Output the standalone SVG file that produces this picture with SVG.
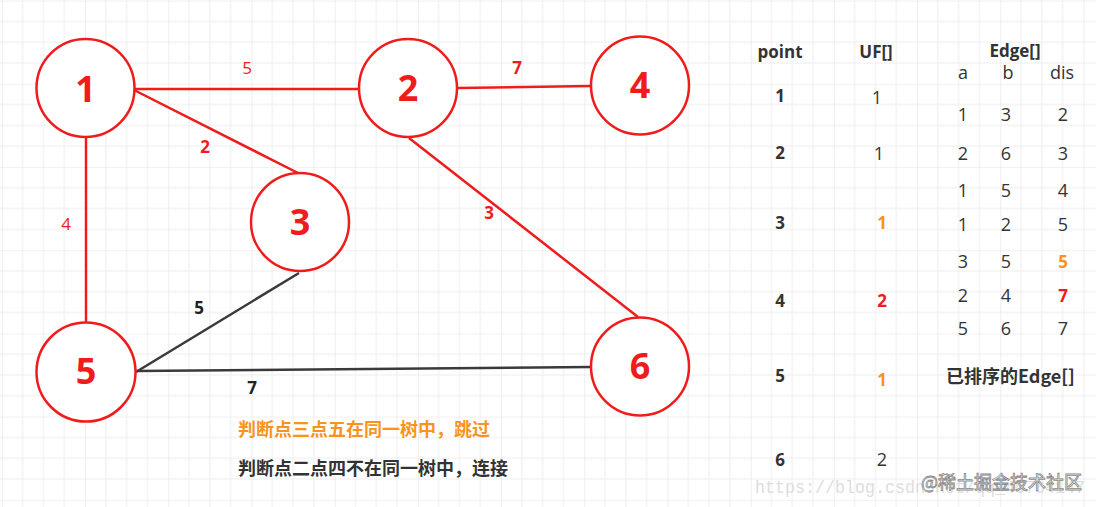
<svg xmlns="http://www.w3.org/2000/svg" width="1096" height="507" viewBox="0 0 1096 507">
  <defs>
    <pattern id="grid" x="1.9" y="0.6" width="83.2" height="83.2" patternUnits="userSpaceOnUse">
      <path d="M20.8 0V83.2M41.6 0V83.2M62.4 0V83.2M0 20.8H83.2M0 41.6H83.2M0 62.4H83.2" stroke="#eeeeee" stroke-width="1" fill="none"/>
      <path d="M0 0V83.2M0 0H83.2" stroke="#e3e3e3" stroke-width="1.2" fill="none"/>
    </pattern>
    <style>
      .node circle { fill: #ffffff; stroke: #f01c1c; stroke-width: 2.5; }
      .node text { font-family: "Open Sans", "Noto Sans", sans-serif; font-weight: bold; font-size: 36px; fill: #f01c1c; text-anchor: middle; }
      .red { stroke: #f01c1c; stroke-width: 2.5; fill: none; }
      .dark { stroke: #3a3a3a; stroke-width: 2.5; fill: none; }
      .elab { font-family: "Open Sans", "Noto Sans", sans-serif; font-size: 17px; text-anchor: middle; }
      .tb { font-family: "Open Sans", "Noto Sans", sans-serif; font-size: 18px; text-anchor: middle; fill: #333333; }
      .hd { font-family: "Open Sans", "Noto Sans", sans-serif; font-size: 17px; font-weight: bold; text-anchor: middle; fill: #333333; }
      .cn { font-family: "Noto Sans CJK SC", sans-serif; font-size: 18px; font-weight: bold; }
      text.b { font-weight: bold; }
      text.rd { fill: #f01c1c; }
      text.bk { fill: #222222; }
      text.or { fill: #f7931e; }
      text.gy { fill: #333333; }
    </style>
  </defs>
  <rect x="0" y="0" width="1096" height="507" fill="#ffffff"/>
  <rect x="0" y="0" width="1096" height="507" fill="url(#grid)"/>

  <g id="connectors">
    <line class="red" x1="135" y1="89" x2="359" y2="89"/>
    <line class="red" x1="457" y1="88" x2="591" y2="86"/>
    <line class="red" x1="134" y1="90" x2="298" y2="173"/>
    <line class="red" x1="86" y1="137" x2="86" y2="322"/>
    <line class="red" x1="409" y1="138" x2="638" y2="317"/>
    <line class="dark" x1="299" y1="273" x2="136" y2="372"/>
    <line class="dark" x1="136" y1="371" x2="591" y2="367"/>
    <text class="elab rd" x="247" y="74">5</text>
    <text class="elab rd b" x="205" y="153">2</text>
    <text class="elab rd" x="66" y="230">4</text>
    <text class="elab rd b" x="517" y="74">7</text>
    <text class="elab rd b" x="489" y="219">3</text>
    <text class="elab bk b" x="199" y="314">5</text>
    <text class="elab bk b" x="252" y="394">7</text>
  </g>

  <g id="node-1" class="node"><circle cx="85.5" cy="88" r="49"/><text x="85.5" y="102">1</text></g>
  <g id="node-2" class="node"><circle cx="408" cy="88" r="49"/><text x="408" y="101">2</text></g>
  <g id="node-4" class="node"><circle cx="640" cy="85.5" r="49"/><text x="640" y="98">4</text></g>
  <g id="node-3" class="node"><circle cx="300" cy="222" r="49"/><text x="300" y="235">3</text></g>
  <g id="node-5" class="node"><circle cx="86" cy="372" r="49.5"/><text x="86" y="384">5</text></g>
  <g id="node-6" class="node"><circle cx="640" cy="366.5" r="49"/><text x="640" y="379">6</text></g>

  <g id="notes">
    <text class="cn or" x="238" y="436">判断点三点五在同一树中，跳过</text>
    <text class="cn gy" x="238" y="475">判断点二点四不在同一树中，连接</text>
  </g>

  <g id="table">
    <text class="hd" x="780" y="58">point</text>
    <text class="hd" x="876" y="58">UF[]</text>
    <text class="hd" x="1015" y="57">Edge[]</text>
    <text class="tb" x="963" y="79">a</text>
    <text class="tb" x="1008" y="79">b</text>
    <text class="tb" x="1062" y="79">dis</text>

    <text class="hd" x="780" y="102">1</text>
    <text class="hd" x="780" y="159">2</text>
    <text class="hd" x="780" y="229">3</text>
    <text class="hd" x="780" y="307">4</text>
    <text class="hd" x="780" y="382">5</text>
    <text class="hd" x="780" y="466">6</text>

    <text class="tb" x="877" y="104">1</text>
    <text class="tb" x="879" y="160">1</text>
    <text class="hd or" x="882" y="229">1</text>
    <text class="hd rd" x="882" y="307">2</text>
    <text class="hd or" x="882" y="386">1</text>
    <text class="tb" x="882" y="466">2</text>

    <text class="tb" x="963" y="121">1</text><text class="tb" x="1006" y="121">3</text><text class="tb" x="1063" y="121">2</text>
    <text class="tb" x="963" y="160">2</text><text class="tb" x="1006" y="160">6</text><text class="tb" x="1063" y="160">3</text>
    <text class="tb" x="963" y="197">1</text><text class="tb" x="1006" y="197">5</text><text class="tb" x="1063" y="197">4</text>
    <text class="tb" x="963" y="231">1</text><text class="tb" x="1006" y="231">2</text><text class="tb" x="1063" y="231">5</text>
    <text class="tb" x="963" y="268">3</text><text class="tb" x="1006" y="268">5</text><text class="hd or" x="1063" y="268">5</text>
    <text class="tb" x="963" y="302">2</text><text class="tb" x="1006" y="302">4</text><text class="hd rd" x="1063" y="302">7</text>
    <text class="tb" x="963" y="335">5</text><text class="tb" x="1006" y="335">6</text><text class="tb" x="1063" y="335">7</text>

    <text class="cn gy" x="946" y="383" font-size="16.5">已排序的Edge[]</text>
  </g>

  <g id="watermark">
    <text x="755" y="493" font-family="Liberation Mono, monospace" font-size="17.5" fill="#dddddd" textLength="330" lengthAdjust="spacingAndGlyphs">https://blog.csdn.net/qq_40764147</text>
    <text x="921" y="489" font-family="Noto Sans CJK SC, sans-serif" font-size="18" fill="#ffffff" stroke="#8a8a8a" stroke-width="0.8">@稀土掘金技术社区</text>
  </g>
</svg>
